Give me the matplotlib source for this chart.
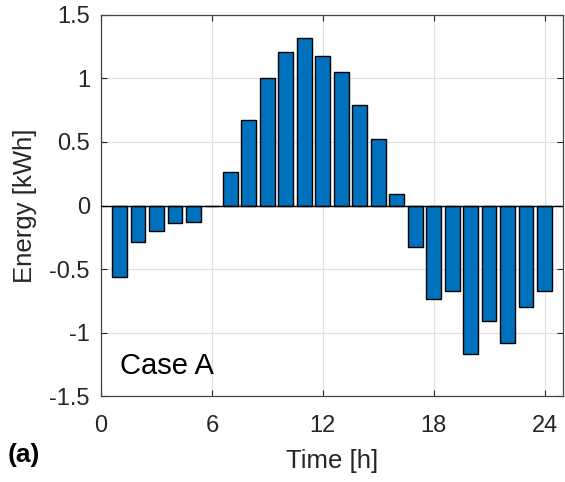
import matplotlib
matplotlib.use("Agg")
import matplotlib.pyplot as plt

# ------------------------------------------
# Data (hourly energy, Case A)
# ------------------------------------------

hours = list(range(1, 25))

energy = [
    -0.56, -0.29, -0.20, -0.14, -0.13, -0.005,
    0.26, 0.67, 1.00, 1.21, 1.32, 1.18,
    1.05, 0.79, 0.52, 0.09, -0.33, -0.74,
    -0.67, -1.17, -0.91, -1.08, -0.80, -0.67,
]

x_ticks = [0, 6, 12, 18, 24]
y_ticks = [-1.5, -1, -0.5, 0, 0.5, 1, 1.5]
y_tick_labels = ["-1.5", "-1", "-0.5", "0", "0.5", "1", "1.5"]

# ------------------------------------------
# Figure
# ------------------------------------------

plt.rcParams["font.family"] = ["Liberation Sans", "DejaVu Sans"]

dark = "#262626"

fig = plt.figure(figsize=(5.65, 4.82), dpi=100)
ax = fig.add_axes([0.1788, 0.1784, 0.8177, 0.7905])

ax.bar(
    hours,
    energy,
    width=0.8,
    color="#0072BD",
    edgecolor="black",
    linewidth=1.0,
    zorder=3
)

ax.axhline(0, color="black", linewidth=1.0, zorder=4)

ax.set_xlim(0, 25)
ax.set_ylim(-1.5, 1.5)

ax.set_xticks(x_ticks)
ax.set_yticks(y_ticks)
ax.set_yticklabels(y_tick_labels)

ax.grid(True, color="#e0e0e0", linewidth=0.9, zorder=0)
ax.set_axisbelow(True)

ax.tick_params(
    direction="in",
    length=4,
    width=0.8,
    colors=dark,
    labelsize=17,
    top=True,
    right=True
)
ax.tick_params(axis="x", pad=14)
ax.tick_params(axis="y", pad=8)

for spine in ax.spines.values():
    spine.set_color("#444444")
    spine.set_linewidth(0.9)

ax.set_xlabel("Time [h]", fontsize=18.5, color=dark, labelpad=8)
ax.set_ylabel("Energy [kWh]", fontsize=18.5, color=dark, labelpad=9)

ax.text(1.05, -1.33, "Case A", fontsize=21, color="black", va="baseline", ha="left")

fig.text(0.013, 0.056, "(a)", fontsize=19, fontweight="bold", color="black", va="center", ha="left")

fig.savefig("out.png", dpi=100)
